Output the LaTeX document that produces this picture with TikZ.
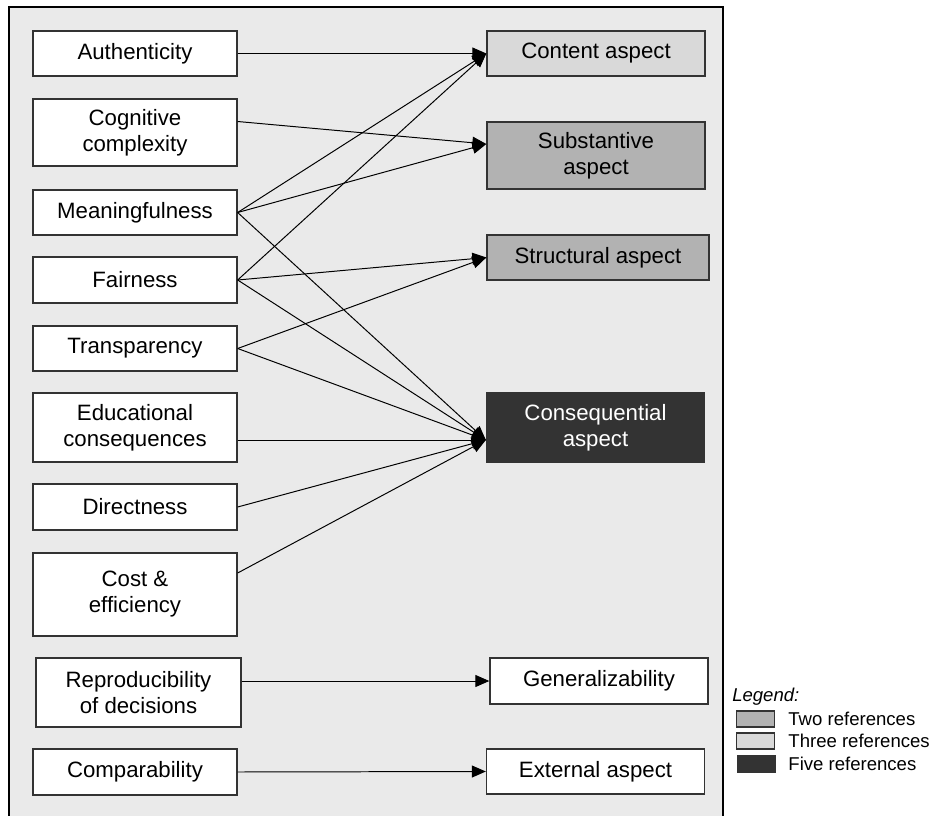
\documentclass[tikz,border=0pt]{standalone}
\usepackage{fontspec}
\setmainfont{Liberation Sans}
\usetikzlibrary{arrows.meta,positioning,calc}
\definecolor{bggray}{HTML}{EAEAEA}
\definecolor{lightaspect}{HTML}{D9D9D9}
\definecolor{midaspect}{HTML}{B2B2B2}
\definecolor{darkaspect}{HTML}{333333}
\definecolor{boxline}{HTML}{333333}
\tikzset{
  crit/.style={draw=boxline, line width=0.9pt, fill=white, minimum width=5.1cm,
    minimum height=1.125cm, align=center, inner sep=2pt,
    font=\fontsize{15.8}{18.5}\selectfont},
  aspect/.style={crit, minimum width=5.45cm},
  link/.style={->, line width=0.7pt},
  legbox/.style={draw=boxline, line width=0.9pt, minimum width=0.95cm,
    minimum height=0.4cm, inner sep=0pt},
  legtext/.style={anchor=west, inner sep=0pt, font=\fontsize{13.2}{15}\selectfont}
}

\begin{document}
\begin{tikzpicture}[x=0.025cm, y=-0.025cm, >={Triangle[length=0.35cm, width=0.3cm]}]
        \useasboundingbox (0,0) rectangle (930,816);
        % Grey panel (runs off the bottom)
        \fill[bggray] (9,7) rectangle (723,816);
        \draw[line width=0.9pt] (9,816) -- (9,7) -- (723,7) -- (723,816);

        % Left side (criteria)
        \node[crit] (auth) at (135,53.5) {Authenticity};
        \node[crit, minimum height=1.675cm] (cogn) at (135,132.5) {Cognitive\\complexity};
        \node[crit] (mean) at (135,212.5) {Meaningfulness};
        \node[crit, minimum height=1.15cm] (fair) at (135,280) {Fairness};
        \node[crit] (trans) at (135,348.5) {Transparency};
        \node[crit, minimum height=1.725cm] (edu) at (135,427.5) {Educational\\consequences};
        \node[crit, minimum height=1.15cm] (direct) at (135,507) {Directness};
        \node[crit, minimum height=2.075cm] (cost) at (135,594.5) {Cost \&\\efficiency};
        \node[crit, minimum height=1.725cm, minimum width=5.125cm] (repro) at (138.5,692.5) {Reproducibility\\of decisions};
        \node[crit, minimum height=1.15cm] (comp) at (135,772) {Comparability};

        % Right side (aspects)
        \node[aspect, fill=lightaspect] (content) at (596,53.5) {Content aspect};
        \node[aspect, fill=midaspect, minimum height=1.675cm] (subst) at (596,155.5) {Substantive\\aspect};
        \node[aspect, fill=midaspect, minimum width=5.55cm] (struct) at (598,257.5) {Structural aspect};
        \node[aspect, fill=darkaspect, text=white, minimum height=1.725cm] (cons) at (595.5,427.5) {Consequential\\aspect};
        \node[aspect, minimum height=1.15cm] (gen) at (599,681) {Generalizability};
        \node[aspect] (ext) at (595.5,771.5) {External aspect};

        % Off-centre ends
        \coordinate (cognout) at ($(cogn.east)+(0,-11)$);
        \coordinate (eduout) at ($(edu.east)+(0,12.5)$);
        \coordinate (costout) at ($(cost.east)+(0,-21.5)$);
        \coordinate (reproout) at ($(repro.east)+(0,-11.5)$);
        \coordinate (substin) at ($(subst.west)+(0,-11.5)$);
        \coordinate (consin) at ($(cons.west)+(0,12.5)$);

        % Links
        \draw[link] (auth.east) -- (content.west);
        \draw[link] (mean.east) -- (content.west);
        \draw[link] (fair.east) -- (content.west);
        \draw[link] (cognout) -- (substin);
        \draw[link] (mean.east) -- (substin);
        \draw[link] (fair.east) -- (struct.west);
        \draw[link] (trans.east) -- (struct.west);
        \draw[link] (mean.east) -- (consin);
        \draw[link] (fair.east) -- (consin);
        \draw[link] (trans.east) -- (consin);
        \draw[link] (eduout) -- (consin);
        \draw[link] (direct.east) -- (consin);
        \draw[link] (costout) -- (consin);
        \draw[link] (reproout) -- (gen.west);
        \draw[link] (comp.east) -- (ext.west);

        % Legend
        \node[legtext, anchor=base west, font=\fontsize{13.2}{15}\selectfont\itshape] (legtitle) at (732,701) {Legend:};
        \node[legbox, fill=midaspect] (ltwo) at (755.5,719) {};
        \node[legbox, fill=lightaspect] (lthree) at (755.5,741) {};
        \node[legbox, fill=darkaspect] (lfive) at (756.5,764) {};
        \node[legtext, right=0.325cm of ltwo] (ttwo) {Two references};
        \node[legtext, right=0.325cm of lthree] (tthree) {Three references};
        \node[legtext, right=0.3cm of lfive] (tfive) {Five references};
    \end{tikzpicture}
\end{document}
